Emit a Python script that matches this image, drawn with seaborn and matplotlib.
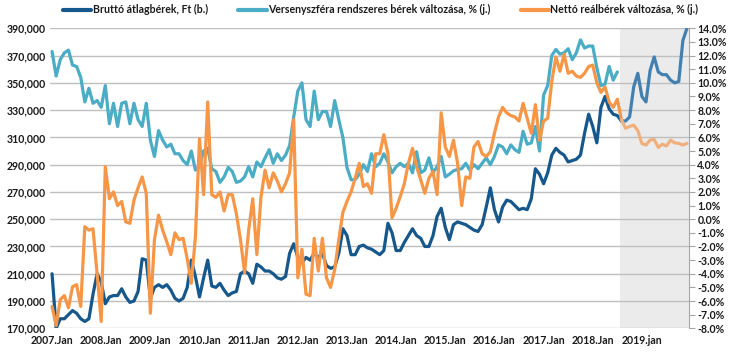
import numpy as np
import pandas as pd
import matplotlib
matplotlib.use("Agg")
import matplotlib.pyplot as plt
import seaborn as sns
from matplotlib.ticker import FuncFormatter
from matplotlib.lines import Line2D

# monthly data 2007 Jan - 2019 Dec
months = pd.period_range("2007-01", "2019-12", freq="M")

# Bruttó átlagbérek, Ft (left axis)
brutto = [
    210000, 170000, 177000, 177000, 180000, 183000, 181000, 177000, 175000, 177000, 195000, 210000,
    204000, 188000, 193000, 194000, 194000, 199000, 193000, 189000, 190000, 197000, 221000, 220000,
    192000, 200000, 202000, 200000, 202000, 198000, 192000, 190000, 192000, 200000, 220000, 208000,
    193000, 207000, 220000, 201000, 200000, 203000, 198000, 194000, 196000, 197000, 210000, 212000,
    210000, 203000, 217000, 215000, 212000, 212000, 210000, 207000, 206000, 208000, 225000, 232000,
    222000, 218000, 222000, 220000, 225000, 222000, 225000, 216000, 214000, 215000, 225000, 243000,
    238000, 224000, 224000, 230000, 231000, 229000, 228000, 226000, 224000, 227000, 247000, 240000,
    227000, 227000, 233000, 238000, 243000, 238000, 236000, 230000, 230000, 238000, 252000, 258000,
    244000, 235000, 246000, 248000, 247000, 246000, 244000, 242000, 241000, 246000, 259000, 273000,
    257000, 248000, 259000, 264000, 263000, 260000, 257000, 258000, 257000, 265000, 287000, 283000,
    276000, 284000, 297000, 302000, 299000, 297000, 292000, 293000, 294000, 297000, 313000, 327000,
    318000, 306000, 332000, 340000, 331000, 327000, 326000, 322000, 322000, 325000, 347000, 357000,
    340000, 336000, 359000, 369000, 358000, 356000, 356000, 352000, 350000, 351000, 381000, 390000,
]

# Versenyszféra rendszeres bérek változása, % (right axis), until 2018 Jul
versenyszfera = [
    12.3, 10.5, 11.7, 12.2, 12.4, 11.3, 11.2, 10.4, 8.6, 9.6, 8.5, 8.7,
    8.2, 9.8, 7.0, 8.5, 6.8, 8.5, 8.6, 7.0, 8.5, 7.3, 6.8, 8.5,
    5.8, 4.6, 6.5, 5.8, 5.3, 5.5, 4.8, 4.8, 4.3, 4.0, 5.0, 3.6,
    3.9, 5.0, 5.2, 3.7, 3.5, 2.7, 3.1, 3.8, 3.5, 2.7, 2.8, 3.1,
    3.85, 3.1, 4.2, 3.85, 4.5, 5.1, 4.1, 4.8, 4.3, 4.7, 5.4, 7.5,
    9.4, 10.0, 7.3, 6.8, 9.4, 7.3, 7.9, 7.9, 6.8, 8.7, 7.3, 6.0,
    3.8, 2.9, 2.9, 3.3, 4.0, 3.5, 4.8, 3.85, 4.1, 4.8, 4.2, 3.4,
    3.85, 4.1, 3.85, 4.1, 3.4, 4.95, 3.4, 3.6, 4.5, 3.4, 3.85, 4.6,
    3.1, 3.3, 3.55, 3.65, 3.7, 4.1, 3.6, 4.0, 3.7, 4.1, 4.5, 4.0,
    4.6, 5.45, 5.3, 4.8, 5.45, 5.1, 4.9, 6.45, 5.5, 5.6, 6.8, 5.0,
    9.1, 9.8, 12.0, 12.45, 12.1, 12.2, 12.5, 11.7, 12.2, 13.15, 12.55, 12.7,
    12.7, 11.1, 9.8, 9.9, 11.2, 10.2, 10.8,
]

# Nettó reálbérek változása, % (right axis)
netto_real = [
    -6.4, -7.8, -5.9, -5.6, -6.5, -4.95, -4.8, -6.4, -0.55, -0.8, -0.7, -4.0,
    -7.5, 3.85, 1.5, 2.0, 1.0, 1.3, -0.2, -0.3, 1.4, 2.3, 3.1, 1.9,
    -6.9, -1.5, 0.3, -0.8, -1.65, -2.6, -1.0, -1.5, -1.4, -2.9, -4.7, -1.3,
    5.9, 1.8, 8.6, 1.8, 1.6, 2.0, 0.6, 1.8, 1.8, 0.4, -1.5, -3.9,
    -0.8, 1.5, -2.6, 1.6, 3.6, 2.3, 3.4, 2.8, 2.0, 2.6, 3.4, 7.3,
    -4.3, -2.2, -5.5, -5.6, -1.4, -3.8, -1.4, -4.3, -5.0, -3.7, -1.5, 0.5,
    1.3, 2.0, 3.0, 4.1, 2.4, 2.6, 1.9, 4.8, 4.8, 6.2, 4.8, 0.1,
    0.8, 1.65, 2.6, 4.1, 5.2, 3.85, 2.9, 1.9, 3.0, 3.5, 1.8, 7.8,
    5.3, 4.6, 5.8, 4.1, 1.0, 3.1, 3.0, 5.3, 5.7, 4.8, 4.6, 4.95,
    6.3, 7.5, 8.2, 7.8, 7.6, 7.5, 7.2, 8.5, 7.4, 6.3, 8.4, 5.8,
    7.2, 7.4, 10.1, 11.9, 10.85, 12.1, 10.7, 10.85, 10.5, 10.4, 10.7, 11.2,
    11.3, 10.0, 9.3, 9.7, 8.6, 8.2, 8.8, 7.3, 6.67, 6.8, 6.9, 6.5,
    5.55, 5.44, 5.8, 5.85, 5.27, 5.5, 5.37, 5.8, 5.6, 5.56, 5.44, 5.56,
]

tick_labels = [f"{y}.Jan" for y in range(2007, 2019)] + ["2019.jan"]
forecast_idx = 139  # 2018 Aug, start of shaded period

labels = ["Bruttó átlagbérek, Ft (b.)",
          "Versenyszféra rendszeres bérek változása, % (j.)",
          "Nettó reálbérek változása, % (j.)"]

n = len(months)
df = pd.DataFrame({
    "t": np.arange(n),
    "brutto": brutto,
    "verseny": versenyszfera + [np.nan] * (n - len(versenyszfera)),
    "netto": netto_real,
})
hist = df[df.t <= forecast_idx]
fcst = df[df.t >= forecast_idx]

c_blue, c_blue_l = "#16588C", "#4280B2"
c_teal = "#4BACC6"
c_orange, c_orange_l = "#F79646", "#F0B07E"

sns.set_style("white")
plt.rcParams["font.family"] = ["Lato", "DejaVu Sans"]

fig = plt.figure(figsize=(7.32, 3.55), dpi=100)
ax = fig.add_axes([50 / 732, 1 - 328.3 / 355, 639 / 732, 300 / 355])
ax2 = ax.twinx()

ax.axvspan(forecast_idx - 0.3, n - 0.5, color="#EBEBEB", lw=0, zorder=0)

lw = 2.3
sns.lineplot(data=hist, x="t", y="brutto", ax=ax, color=c_blue, lw=lw)
sns.lineplot(data=fcst, x="t", y="brutto", ax=ax, color=c_blue_l, lw=lw)
sns.lineplot(data=hist, x="t", y="verseny", ax=ax2, color=c_teal, lw=lw)
sns.lineplot(data=hist, x="t", y="netto", ax=ax2, color=c_orange, lw=lw)
sns.lineplot(data=fcst, x="t", y="netto", ax=ax2, color=c_orange_l, lw=lw)

ax.set_xlim(-0.5, n - 0.5)
ax.set_ylim(170000, 390000)
ax2.set_ylim(-8, 14)

ax.set_yticks(np.arange(170000, 390001, 20000))
ax.yaxis.set_major_formatter(FuncFormatter(lambda v, p: f"{v:,.0f}"))
ax2.set_yticks(np.arange(-8, 14.01, 1))
ax2.yaxis.set_major_formatter(FuncFormatter(lambda v, p: f"{v:.1f}%"))
ax.set_xticks(np.arange(0, n, 12))
ax.set_xticklabels(tick_labels)

ax.grid(axis="y", color="#BFBFBF", lw=1)
ax.grid(axis="x", visible=False)
ax.set_axisbelow(True)
for s in ax.spines.values():
    s.set_visible(False)
for s in ["top", "left", "bottom"]:
    ax2.spines[s].set_visible(False)
ax2.spines["right"].set_color("#A6A6A6")

fs = 7.6
ax.tick_params(axis="y", length=0, pad=3, labelsize=fs, labelcolor="#1a1a1a")
ax.tick_params(axis="x", length=0, pad=5, labelsize=fs, labelcolor="#1a1a1a")
ax2.tick_params(axis="y", length=4, color="#A6A6A6", pad=2, labelsize=fs, labelcolor="#1a1a1a")
for a in (ax, ax2):
    a.set_xlabel("")
    a.set_ylabel("")
    for t in a.get_xticklabels() + a.get_yticklabels():
        t.set_fontweight("bold")

handles = [Line2D([], [], color=c, lw=3) for c in (c_blue, c_teal, c_orange)]
fig.legend(handles, labels, loc="upper center", bbox_to_anchor=(0.52, 1.015), ncol=3,
           frameon=False, handlelength=2.7, handletextpad=0.1, columnspacing=2.9,
           prop={"size": fs, "weight": "bold"}, labelcolor="#1a1a1a")

fig.savefig("out.png", dpi=100)
